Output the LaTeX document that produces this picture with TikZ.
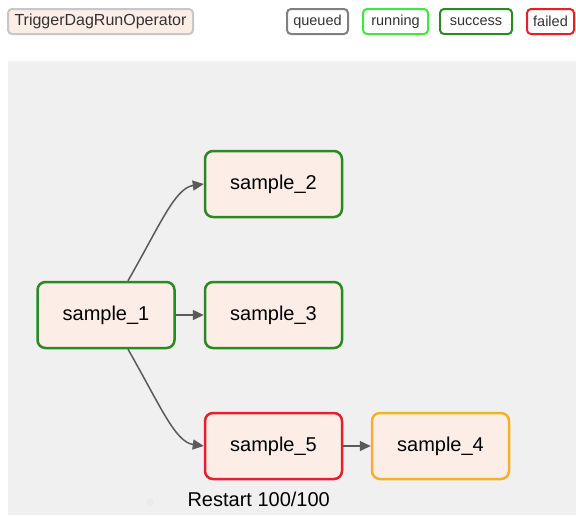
\documentclass[tikz,border=0pt]{standalone}
\usepackage{fontspec}
\setmainfont{Liberation Sans}
\usetikzlibrary{arrows.meta}
\definecolor{taskfill}{HTML}{FCEDE7}
\definecolor{okgreen}{HTML}{2A8A22}
\definecolor{runfill}{HTML}{3EE83E}
\definecolor{failred}{HTML}{E5202A}
\definecolor{skipgold}{HTML}{F2B02E}
\definecolor{edgegray}{HTML}{5A5A5A}
\definecolor{canvas}{HTML}{F0F0F0}

\begin{document}
\begin{tikzpicture}[x=1pt,y=-1pt,
    task/.style={draw,line width=2.5pt,rounded corners=8pt,fill=taskfill,
        minimum width=137pt,minimum height=66pt,font=\fontsize{20}{24}\selectfont},
    tag/.style={draw,line width=2pt,rounded corners=4pt,fill=white,inner sep=0pt,
        minimum height=25pt,font=\fontsize{14.5}{16}\selectfont,text=black!80},
    link/.style={edgegray,line width=1.5pt,-{Triangle[length=11pt,width=10pt]}}]
    \useasboundingbox (0,0) rectangle (576,515);
    \fill[white] (0,0) rectangle (576,515);
    \fill[canvas] (8,61) rectangle (576,515);

    % legend
    \node[tag,draw=black!22,fill=taskfill,minimum width=185pt,font=\fontsize{16}{18}\selectfont](op) at (100.5,21.5){TriggerDagRunOperator};
    \node[tag,draw=black!50,minimum width=61pt](queued) at (317.5,21.5){queued};
    \node[tag,draw=runfill,minimum width=65pt](running) at (395.5,21.5){running};
    \node[tag,draw=okgreen,minimum width=72pt](success) at (476,21.5){success};
    \node[tag,draw=failred,minimum width=47pt](failed) at (550.5,21.5){failed};

    % tasks
    \node[task,draw=okgreen](s1) at (106,315){sample\_1};
    \node[task,draw=okgreen](s2) at (273.5,184){sample\_2};
    \node[task,draw=okgreen](s3) at (273.5,315){sample\_3};
    \node[task,draw=failred](s5) at (273.5,446){sample\_5};
    \node[task,draw=skipgold](s4) at (440.5,446){sample\_4};

    \draw[link](s1.north)++(22,0) .. controls (160,225) and (175,188) .. (s2.west);
    \draw[link](s1.east) -- (s3.west);
    \draw[link](s1.south)++(22,0) .. controls (160,405) and (175,442) .. (s5.west);
    \draw[link](s5.east) -- (s4.west);

    \fill[black!8] (150,502) circle (4pt);
    \node[font=\fontsize{20}{24}\selectfont,anchor=west](restart) at (184,499){Restart 100/100};
\end{tikzpicture}
\end{document}
